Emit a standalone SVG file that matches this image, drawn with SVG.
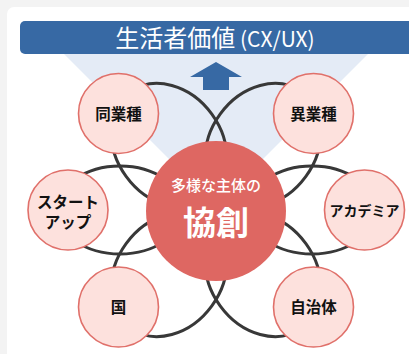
<svg xmlns="http://www.w3.org/2000/svg" width="409" height="354" viewBox="0 0 409 354">
  <defs>
    <style>
      .jp { font-family: "Noto Sans CJK JP", "Noto Sans", sans-serif; }
      .node circle { fill: #fde1dd; stroke: #e0706a; stroke-width: 1.6; }
      .node text { font-size: 15.5px; font-weight: 700; fill: #111; text-anchor: middle; }
      .conn ellipse { fill: none; stroke: #383838; stroke-width: 3; }
    </style>
  </defs>
  <rect x="0" y="0" width="409" height="354" fill="#f3f3f3"/>
  <rect x="7" y="7" width="420" height="360" rx="7" fill="#ffffff"/>
  <polygon points="63,53 369,53 216,206" fill="#e4ebf6"/>
  <g id="banner">
    <rect x="20" y="21" width="400" height="33" rx="5" fill="#3769a4"/>
    <text class="jp" x="215" y="47" text-anchor="middle" fill="#ffffff" font-size="24" font-weight="400">生活者価値<tspan font-size="21"> (CX/UX)</tspan></text>
  </g>
  <polygon id="arrow" points="216,62 242,77 229,77 229,90 203,90 203,77 190,77" fill="#3769a4"/>
  <g id="connectors" class="conn" transform="translate(216,210)">
    <ellipse transform="rotate(-126)" cx="80" cy="0" rx="66" ry="53"/>
    <ellipse transform="rotate(-54)" cx="80" cy="0" rx="66" ry="53"/>
    <ellipse transform="rotate(126)" cx="80" cy="0" rx="66" ry="53"/>
    <ellipse transform="rotate(54)" cx="80" cy="0" rx="66" ry="53"/>
    <ellipse transform="rotate(180)" cx="96" cy="0" rx="63" ry="44"/>
    <ellipse transform="rotate(0)" cx="96" cy="0" rx="63" ry="44"/>
  </g>
  <g id="center" class="jp">
    <circle cx="216" cy="211" r="70" fill="#de6762"/>
    <text x="216" y="191" text-anchor="middle" fill="#ffffff" font-size="15" font-weight="500">多様な主体の</text>
    <text x="216" y="235" text-anchor="middle" fill="#ffffff" font-size="33" font-weight="700">協創</text>
  </g>
  <g id="n-dougyoushu" class="node jp">
    <circle cx="118.5" cy="113.5" r="40"/>
    <text x="118.5" y="119.5">同業種</text>
  </g>
  <g id="n-igyoushu" class="node jp">
    <circle cx="313.5" cy="113.5" r="40"/>
    <text x="313.5" y="119.5">異業種</text>
  </g>
  <g id="n-startup" class="node jp">
    <circle cx="68" cy="210" r="40"/>
    <text x="68" y="208">スタート</text>
    <text x="68" y="228">アップ</text>
  </g>
  <g id="n-academia" class="node jp">
    <circle cx="364.5" cy="210" r="40"/>
    <text x="364.5" y="216" style="font-size:14px">アカデミア</text>
  </g>
  <g id="n-kuni" class="node jp">
    <circle cx="118.5" cy="307" r="40"/>
    <text x="118.5" y="313">国</text>
  </g>
  <g id="n-jichitai" class="node jp">
    <circle cx="313.5" cy="307" r="40"/>
    <text x="313.5" y="313">自治体</text>
  </g>
</svg>
